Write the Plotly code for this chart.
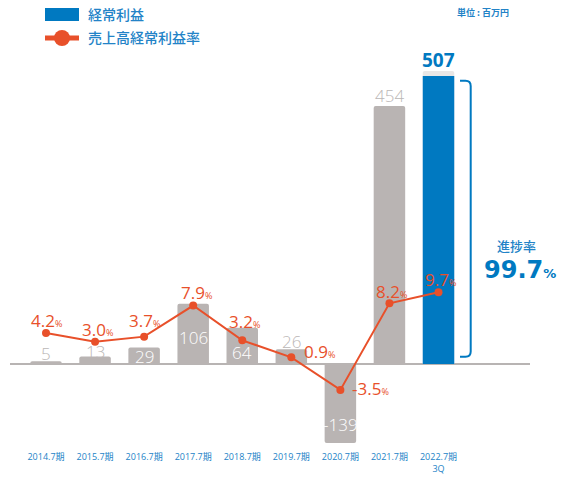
import plotly.graph_objects as go

# ---- data -------------------------------------------------------------
periods = ["2014.7期", "2015.7期", "2016.7期", "2017.7期", "2018.7期",
           "2019.7期", "2020.7期", "2021.7期", "2022.7期<br>3Q"]
ordinary_profit = [5, 13, 29, 106, 64, 26, -139, 454, 507]          # 百万円
profit_margin = [4.2, 3.0, 3.7, 7.9, 3.2, 0.9, -3.5, 8.2, 9.7]       # %
target_band = 516
progress_rate = 99.7

# ---- styles -----------------------------------------------------------
GRAY = "#b9b4b3"
BLUE = "#0079c1"
TEXT_BLUE = "#2383c7"
ORANGE = "#e8502a"
LABEL_GRAY = "#bbb7b6"
NUM_FONT = "Open Sans"
JP_FONT = "Noto Sans CJK JP"

W, H = 565, 477
M = dict(l=10, r=35, t=60, b=27)
X_RANGE = [-0.734, 9.865]
Y_RANGE = [-151.4, 535.2]
Y2_RANGE = [-11.62, 41.08]

plot_w = W - M["l"] - M["r"]
plot_h = H - M["t"] - M["b"]


def px_to_paper_x(px):
    return (px - M["l"]) / plot_w


def px_to_paper_y(py):
    return (H - M["b"] - py) / plot_h


def px_to_data_x(px):
    return X_RANGE[0] + (px - M["l"]) / plot_w * (X_RANGE[1] - X_RANGE[0])


def px_to_data_y(py):
    return Y_RANGE[1] - (py - M["t"]) / plot_h * (Y_RANGE[1] - Y_RANGE[0])


n = len(periods)
xs = list(range(n))
bar_colors = [GRAY] * (n - 1) + [BLUE]

fig = go.Figure()

# light band on top of the latest bar
fig.add_trace(go.Bar(x=[xs[-1]], y=[target_band], width=0.642,
                     marker=dict(color="#e9e7e6", line_width=0, cornerradius=2),
                     hoverinfo="skip"))

fig.add_trace(go.Bar(x=xs, y=ordinary_profit, width=0.642,
                     marker=dict(color=bar_colors, line_width=0, cornerradius=2),
                     name="経常利益"))

fig.add_trace(go.Scatter(x=xs, y=profit_margin, yaxis="y2", mode="lines+markers",
                         line=dict(color=ORANGE, width=2),
                         marker=dict(color=ORANGE, size=8),
                         name="売上高経常利益率"))

annotations = []

# value labels on bars: (pixel shift from bar end, colour)
bar_label_style = [
    (8, LABEL_GRAY), (5, LABEL_GRAY), (-8.5, "white"), (-34, "white"),
    (-25, "white"), (8, LABEL_GRAY), (18, "white"), (11, LABEL_GRAY),
]
for i, (shift, color) in enumerate(bar_label_style):
    v = ordinary_profit[i]
    annotations.append(dict(
        x=xs[i], y=v, xref="x", yref="y", text=str(v), showarrow=False,
        yanchor="middle", yshift=shift,
        font=dict(family=NUM_FONT, size=17, color=color, weight=300)))

annotations.append(dict(
    x=xs[-1], y=ordinary_profit[-1], xref="x", yref="y",
    text=f"<b>{ordinary_profit[-1]}</b>", showarrow=False,
    yanchor="middle", yshift=16,
    font=dict(family=NUM_FONT, size=19, color=BLUE)))

# margin labels: (x shift, y shift) in pixels from the point
pct_offsets = [(0, 12), (2.5, 12), (0, 16), (3, 13), (2.5, 19),
               (28, 6), (30, 1), (2, 12), (1.5, 13)]
for i, (dx, dy) in enumerate(pct_offsets):
    v = profit_margin[i]
    annotations.append(dict(
        x=xs[i], y=v, xref="x", yref="y2",
        text=f"{v:.1f}<span style='font-size:9px'>%</span>",
        showarrow=False, xshift=dx, yshift=dy, yanchor="middle",
        font=dict(family=NUM_FONT, size=17, color=ORANGE, weight=400)))

# legend
annotations += [
    dict(x=px_to_paper_x(86), y=px_to_paper_y(14.5), xref="paper", yref="paper",
         text="経常利益", showarrow=False, xanchor="left", yanchor="middle",
         font=dict(family=JP_FONT, size=14, color=TEXT_BLUE, weight=500)),
    dict(x=px_to_paper_x(86), y=px_to_paper_y(37.5), xref="paper", yref="paper",
         text="売上高経常利益率", showarrow=False, xanchor="left", yanchor="middle",
         font=dict(family=JP_FONT, size=14, color=TEXT_BLUE, weight=500)),
    dict(x=px_to_paper_x(511), y=px_to_paper_y(13), xref="paper", yref="paper",
         text="<b>単位 : 百万円</b>", showarrow=False, xanchor="right", yanchor="middle",
         font=dict(family=JP_FONT, size=9, color=TEXT_BLUE)),
    dict(x=px_to_paper_x(516), y=px_to_paper_y(245), xref="paper", yref="paper",
         text="進捗率", showarrow=False, xanchor="center", yanchor="middle",
         font=dict(family=JP_FONT, size=13, color=TEXT_BLUE, weight=500)),
    dict(x=px_to_paper_x(520), y=px_to_paper_y(270), xref="paper", yref="paper",
         text=f"<b>{progress_rate}</b><span style='font-size:13px'><b>%</b></span>",
         showarrow=False, xanchor="center", yanchor="middle",
         font=dict(family="DejaVu Sans", size=24, color=BLUE)),
]

shapes = [
    dict(type="rect", xref="paper", yref="paper",
         x0=px_to_paper_x(45), x1=px_to_paper_x(79),
         y0=px_to_paper_y(21), y1=px_to_paper_y(8),
         fillcolor=BLUE, line_width=0),
    dict(type="line", xref="paper", yref="paper",
         x0=px_to_paper_x(45), x1=px_to_paper_x(79),
         y0=px_to_paper_y(38), y1=px_to_paper_y(38),
         line=dict(color=ORANGE, width=5)),
    dict(type="circle", xref="paper", yref="paper",
         x0=px_to_paper_x(54), x1=px_to_paper_x(70),
         y0=px_to_paper_y(46), y1=px_to_paper_y(30),
         fillcolor=ORANGE, line_width=0),
]

# bracket beside the latest bar
bx_in, bx_c, bx_out = px_to_data_x(460), px_to_data_x(465.5), px_to_data_x(470.7)
by_top, by_top_r = px_to_data_y(80.7), px_to_data_y(86)
by_bot, by_bot_r = px_to_data_y(356.7), px_to_data_y(351.5)
bracket = (f"M {bx_in},{by_top} L {bx_c},{by_top} Q {bx_out},{by_top} {bx_out},{by_top_r} "
           f"L {bx_out},{by_bot_r} Q {bx_out},{by_bot} {bx_c},{by_bot} L {bx_in},{by_bot}")
shapes.append(dict(type="path", xref="x", yref="y", path=bracket,
                   line=dict(color=BLUE, width=2)))

fig.update_layout(
    width=W, height=H, margin=M,
    paper_bgcolor="white", plot_bgcolor="white",
    showlegend=False, barmode="overlay",
    xaxis=dict(range=X_RANGE, tickvals=xs, ticktext=periods, automargin=False,
               showgrid=False, zeroline=False, showline=False, ticks="",
               tickfont=dict(family=f"{NUM_FONT}, {JP_FONT}", size=9, color=TEXT_BLUE)),
    yaxis=dict(range=Y_RANGE, showgrid=False, showticklabels=False, automargin=False,
               zeroline=True, zerolinecolor="#b8b4b3", zerolinewidth=1.5, showline=False),
    yaxis2=dict(range=Y2_RANGE, overlaying="y", side="right", showgrid=False,
                automargin=False, zeroline=False, showticklabels=False, showline=False),
    annotations=annotations, shapes=shapes,
)

fig.write_html("out.html")
